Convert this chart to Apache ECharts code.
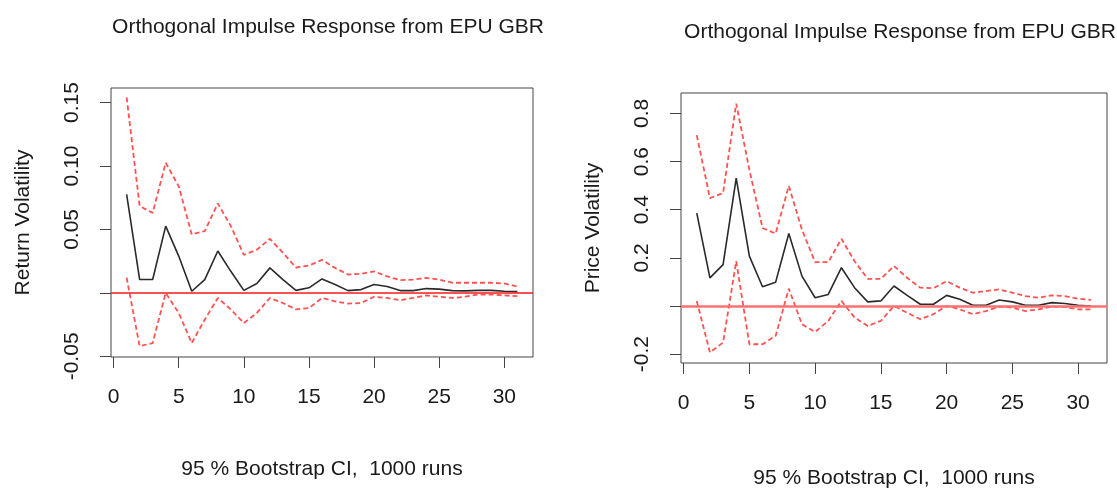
<!DOCTYPE html>
<html>
<head>
<meta charset="utf-8">
<script src="https://cdn.jsdelivr.net/npm/echarts@6/dist/echarts.min.js"></script>
<style>
html,body{margin:0;padding:0;background:#fff;}
#chart{width:1117px;height:489px;}
</style>
</head>
<body>
<div id="chart"></div>
<script>
// ---- data ----
var horizons = [1,2,3,4,5,6,7,8,9,10,11,12,13,14,15,16,17,18,19,20,21,22,23,24,25,26,27,28,29,30,31];

var returnIrf   = [0.0776,0.0105,0.0105,0.0526,0.029,0.0013,0.0105,0.033,0.017,0.002,0.0074,0.0197,0.0105,0.002,0.004,0.011,0.0066,0.0018,0.0026,0.0066,0.005,0.0018,0.0018,0.0034,0.003,0.0018,0.0016,0.002,0.002,0.0013,0.001];
var returnUpper = [0.154,0.0684,0.063,0.1026,0.084,0.046,0.0487,0.0705,0.0526,0.030,0.034,0.0426,0.0316,0.020,0.0216,0.026,0.0197,0.0145,0.015,0.017,0.013,0.010,0.0105,0.0118,0.0105,0.008,0.008,0.008,0.008,0.0074,0.005];
var returnLower = [0.012,-0.042,-0.0395,0.000,-0.0158,-0.0395,-0.021,-0.004,-0.013,-0.0237,-0.0158,-0.004,-0.008,-0.013,-0.012,-0.004,-0.0066,-0.0084,-0.008,-0.003,-0.004,-0.0058,-0.004,-0.002,-0.003,-0.004,-0.003,-0.0013,-0.0013,-0.002,-0.0026];

var priceIrf   = [0.386,0.117,0.172,0.531,0.207,0.080,0.099,0.301,0.124,0.034,0.048,0.159,0.076,0.017,0.021,0.083,0.044,0.007,0.007,0.044,0.028,0.003,0.003,0.025,0.017,0.003,0.003,0.014,0.010,0.003,0.000];
var priceUpper = [0.710,0.448,0.469,0.841,0.566,0.324,0.301,0.499,0.317,0.182,0.182,0.279,0.186,0.113,0.113,0.166,0.117,0.076,0.074,0.103,0.076,0.055,0.062,0.069,0.055,0.041,0.034,0.044,0.041,0.030,0.025];
var priceLower = [0.021,-0.193,-0.152,0.186,-0.159,-0.159,-0.124,0.072,-0.076,-0.108,-0.062,0.021,-0.048,-0.083,-0.062,0.000,-0.028,-0.055,-0.034,0.000,-0.014,-0.034,-0.021,-0.003,-0.007,-0.021,-0.014,-0.003,-0.004,-0.014,-0.014];

var xTicks = [0,5,10,15,20,25,30];
var xTickLabels = ['0','5','10','15','20','25','30'];
var returnYTicks = [-0.05,0,0.05,0.10,0.15];
var returnYTickLabels = ['-0.05','','0.05','0.10','0.15'];
var priceYTicks = [-0.2,0,0.2,0.4,0.6,0.8];
var priceYTickLabels = ['-0.2','','0.2','0.4','0.6','0.8'];

var titleText = 'Orthogonal Impulse Response from EPU GBR';
var subText = '95 % Bootstrap CI,  1000 runs';
var returnName = 'Return Volatility';
var priceName = 'Price Volatility';

// ---- build ----
function pairs(ys){ return horizons.map(function(h,i){ return [h, ys[i]]; }); }
function lookup(ticks, labels){
  return function(v){
    for (var i=0;i<ticks.length;i++){ if (Math.abs(ticks[i]-v)<1e-9) return labels[i]; }
    return '';
  };
}
var FONT = '"Liberation Sans", Arial, sans-serif';
var TXT = '#1a1a1a';
var BOX = '#444';
var FS = 21;

function xAxisCfg(gi, gap){
  return {
    type:'value', gridIndex:gi, min:-0.2, max:32.2,
    axisLine:{show:false, onZero:false},
    axisTick:{show:true, customValues:xTicks, length:11, inside:false, lineStyle:{color:BOX, width:1}},
    axisLabel:{customValues:xTicks, formatter:lookup(xTicks,xTickLabels), margin:30, fontSize:FS, fontFamily:FONT, color:TXT},
    splitLine:{show:false},
    name:subText, nameLocation:'middle', nameGap:gap,
    nameTextStyle:{fontSize:FS, fontFamily:FONT, color:TXT}
  };
}
function yAxisCfg(gi, mn, mx, ticks, labels, name){
  return {
    type:'value', gridIndex:gi, min:mn, max:mx,
    axisLine:{show:false, onZero:false},
    axisTick:{show:true, customValues:ticks, length:11, inside:false, lineStyle:{color:BOX, width:1}},
    axisLabel:{customValues:ticks, formatter:lookup(ticks,labels), rotate:90, margin:28, fontSize:FS, fontFamily:FONT, color:TXT},
    splitLine:{show:false},
    name:name, nameLocation:'middle', nameGap:77, nameRotate:90,
    nameTextStyle:{fontSize:FS, fontFamily:FONT, color:TXT}
  };
}
function band(xi, ys){
  return {type:'line', xAxisIndex:xi, yAxisIndex:xi, data:pairs(ys), symbol:'none', silent:true,
    lineStyle:{color:'#ff5252', width:1.8, type:[5,3]}, z:3};
}
function irf(xi, ys, style){
  return {type:'line', xAxisIndex:xi, yAxisIndex:xi, data:pairs(ys), symbol:'none', silent:true,
    lineStyle:{color:'#2a2a2a', width:1.6}, z:4,
    markLine:{silent:true, symbol:['none','none'], label:{show:false}, lineStyle:style, emphasis:{disabled:true}, data:[{yAxis:0}], z:6}};
}

var chart = echarts.init(document.getElementById('chart'), null, {renderer:'canvas'});
chart.setOption({
  animation:false,
  backgroundColor:'#ffffff',
  title:[
    {text:titleText, left:323, top:12, textAlign:'center', textStyle:{fontSize:FS, fontWeight:'normal', fontFamily:FONT, color:TXT}},
    {text:titleText, left:895, top:17, textAlign:'center', textStyle:{fontSize:FS, fontWeight:'normal', fontFamily:FONT, color:TXT}}
  ],
  grid:[
    {left:111, top:88, width:422, height:269, show:true, borderColor:BOX, borderWidth:1, backgroundColor:'transparent', outerBoundsMode:'none', containLabel:false},
    {left:681, top:93, width:426, height:270, show:true, borderColor:BOX, borderWidth:1, backgroundColor:'transparent', outerBoundsMode:'none', containLabel:false}
  ],
  xAxis:[xAxisCfg(0, 102), xAxisCfg(1, 105)],
  yAxis:[
    yAxisCfg(0, -0.0505, 0.1614, returnYTicks, returnYTickLabels, returnName),
    yAxisCfg(1, -0.237, 0.885, priceYTicks, priceYTickLabels, priceName)
  ],
  series:[
    band(0, returnUpper), band(0, returnLower),
    irf(0, returnIrf, {color:'#ff1a1a', width:1.5, type:'solid', opacity:1}),
    band(1, priceUpper), band(1, priceLower),
    irf(1, priceIrf, {color:'#ff7070', width:2.5, type:'solid', opacity:1})
  ]
});
</script>
</body>
</html>
